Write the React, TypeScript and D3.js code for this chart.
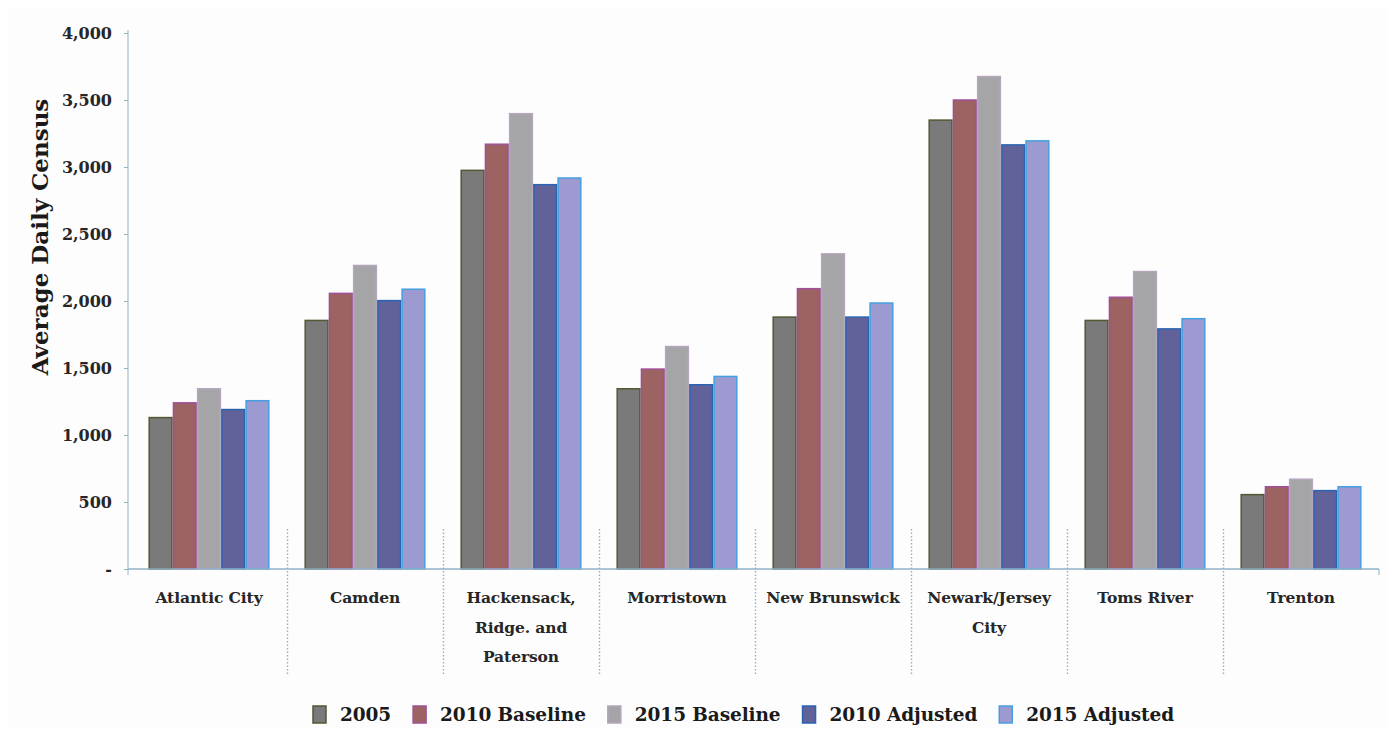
import * as d3 from "d3";
import React, { useEffect, useRef } from "react";

const categories: string[][] = [
	["Atlantic City"],
	["Camden"],
	["Hackensack,", "Ridge. and", "Paterson"],
	["Morristown"],
	["New Brunswick"],
	["Newark/Jersey", "City"],
	["Toms River"],
	["Trenton"],
];
const seriesNames = ["2005", "2010 Baseline", "2015 Baseline", "2010 Adjusted", "2015 Adjusted"];
const v2005 = [1130, 1855, 2975, 1345, 1880, 3350, 1855, 555];
const v2010Base = [1240, 2057, 3170, 1492, 2092, 3500, 2028, 614];
const v2015Base = [1345, 2265, 3398, 1660, 2352, 3675, 2220, 670];
const v2010Adj = [1190, 2003, 2868, 1375, 1880, 3165, 1792, 585];
const v2015Adj = [1256, 2088, 2918, 1437, 1985, 3195, 1868, 614];
const yTicks = [0, 500, 1000, 1500, 2000, 2500, 3000, 3500, 4000];

const fills = ["#7a7a7a", "#9c6362", "#a5a5a7", "#62629a", "#9c9ad0"];
const strokes = ["#4f5a30", "#a0509a", "#b4a6bc", "#2a64b0", "#44a0e0"];

const FONT = "'DejaVu Serif', 'Liberation Serif', serif";

const App = () => {
	const ref = useRef<HTMLDivElement>(null);

	useEffect(() => {
		const width = 1395;
		const height = 736;
		const left = 131;
		const right = 1379;
		const top = 33;
		const bottom = 569;

		d3.select(ref.current).selectAll("svg").remove();
		const svg = d3
			.select(ref.current)
			.append("svg")
			.attr("width", width)
			.attr("height", height)
			.style("display", "block")
			.style("background", "#fdfdfd");

		const series = [v2005, v2010Base, v2015Base, v2010Adj, v2015Adj];
		const keys = categories.map((c) => c.join(" "));

		const x0 = d3.scaleBand<string>().domain(keys).range([left, right]).padding(0);
		const x1 = d3
			.scaleBand<number>()
			.domain(d3.range(series.length))
			.range([0, x0.bandwidth()])
			.paddingInner(0)
			.paddingOuter(0.72);
		const y = d3.scaleLinear().domain([0, 4000]).range([bottom, top]);

		const axisColor = "#8fb2c9";

		// y axis
		const yAxis = svg
			.append("g")
			.attr("transform", `translate(128,0)`)
			.call(
				d3
					.axisLeft(y)
					.tickValues(yTicks)
					.tickSize(4)
					.tickPadding(12)
					.tickFormat((d) => ((d as number) === 0 ? "-" : d3.format(",")(d as number)))
			);
		yAxis.select(".domain").attr("stroke", axisColor).attr("d", `M0,${top - 3}V${bottom + 6}`);
		yAxis.selectAll(".tick line").attr("stroke", axisColor);
		yAxis
			.selectAll(".tick text")
			.attr("font-family", FONT)
			.attr("font-weight", "bold")
			.attr("font-size", 16)
			.attr("fill", "#262626");

		svg.append("text")
			.attr("transform", `translate(48, 237) rotate(-90)`)
			.attr("text-anchor", "middle")
			.attr("font-family", FONT)
			.attr("font-weight", "bold")
			.attr("font-size", 23)
			.attr("fill", "#1a1a1a")
			.text("Average Daily Census");

		// bars
		keys.forEach((k, ci) => {
			const g = svg.append("g").attr("transform", `translate(${x0(k)},0)`);
			series.forEach((vals, si) => {
				g.append("rect")
					.attr("x", (x1(si) as number) + 0.75)
					.attr("y", y(vals[ci]))
					.attr("width", x1.bandwidth() - 1.5)
					.attr("height", bottom - y(vals[ci]))
					.attr("fill", fills[si])
					.attr("stroke", strokes[si])
					.attr("stroke-width", 1.5);
			});
		});

		// x axis
		svg.append("line")
			.attr("x1", 128)
			.attr("x2", right)
			.attr("y1", bottom)
			.attr("y2", bottom)
			.attr("stroke", axisColor)
			.attr("stroke-width", 1.5);
		svg.append("line")
			.attr("x1", right)
			.attr("x2", right)
			.attr("y1", bottom)
			.attr("y2", bottom + 6)
			.attr("stroke", axisColor);

		// dotted separators
		keys.slice(1).forEach((k) => {
			const xx = Math.round(x0(k) as number) + 0.5;
			svg.append("line")
				.attr("x1", xx)
				.attr("x2", xx)
				.attr("y1", 529)
				.attr("y2", 676)
				.attr("stroke", axisColor)
				.attr("stroke-width", 1.4)
				.attr("stroke-dasharray", "1.5,2");
		});

		// category labels
		categories.forEach((lines, ci) => {
			const cx = (x0(keys[ci]) as number) + x0.bandwidth() / 2;
			lines.forEach((ln, li) => {
				svg.append("text")
					.attr("x", cx)
					.attr("y", 603 + li * 29.5)
					.attr("text-anchor", "middle")
					.attr("font-family", FONT)
					.attr("font-weight", "bold")
					.attr("font-size", 15.5)
					.attr("letter-spacing", -0.1)
					.attr("fill", "#262626")
					.text(ln);
			});
		});

		// legend
		const lg = svg.append("g").attr("transform", "translate(313,721)");
		let cur = 0;
		seriesNames.forEach((name, i) => {
			const item = lg.append("g").attr("transform", `translate(${cur},0)`);
			item.append("rect")
				.attr("x", 0)
				.attr("y", -15)
				.attr("width", 13)
				.attr("height", 17)
				.attr("fill", fills[i])
				.attr("stroke", strokes[i])
				.attr("stroke-width", 1.5);
			const t = item
				.append("text")
				.attr("x", 27)
				.attr("y", 0)
				.attr("font-family", FONT)
				.attr("font-weight", "bold")
				.attr("font-size", 18.5)
				.attr("letter-spacing", -0.1)
				.attr("fill", "#1a1a1a")
				.text(name);
			const w = (t.node() as SVGTextElement).getComputedTextLength();
			cur += 27 + w + 22;
		});
	});

	return <div ref={ref} style={{ margin: -8 }}></div>;
};

export default App;
